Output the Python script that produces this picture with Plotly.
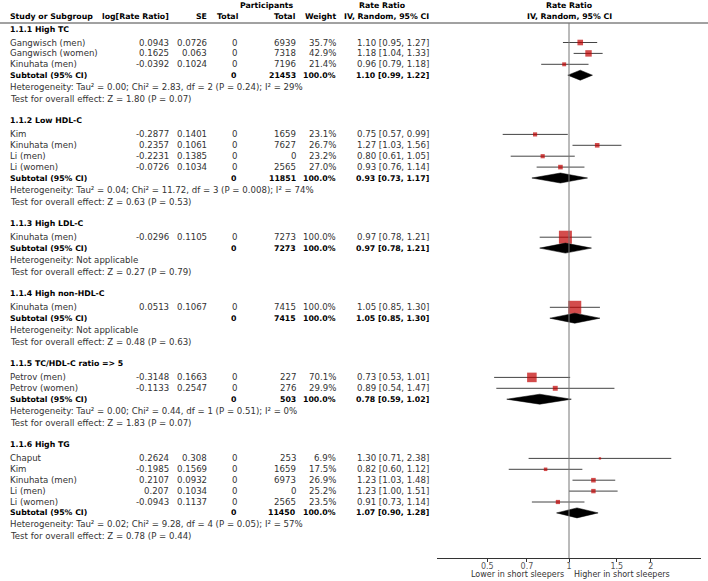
import plotly.graph_objects as go

# ---------------- data ----------------
groups = ["1.1.1 High TC", "1.1.2 Low HDL-C", "1.1.3 High LDL-C",
          "1.1.4 High non-HDL-C", "1.1.5 TC/HDL-C ratio => 5", "1.1.6 High TG"]

study = ["Gangwisch (men)", "Gangwisch (women)", "Kinuhata (men)",
         "Kim", "Kinuhata (men)", "Li (men)", "Li (women)",
         "Kinuhata (men)",
         "Kinuhata (men)",
         "Petrov (men)", "Petrov (women)",
         "Chaput", "Kim", "Kinuhata (men)", "Li (men)", "Li (women)"]
study_group = [0, 0, 0, 1, 1, 1, 1, 2, 3, 4, 4, 5, 5, 5, 5, 5]
log_rr = ["0.0943", "0.1625", "-0.0392", "-0.2877", "0.2357", "-0.2231", "-0.0726",
          "-0.0296", "0.0513", "-0.3148", "-0.1133",
          "0.2624", "-0.1985", "0.2107", "0.207", "-0.0943"]
se = ["0.0726", "0.063", "0.1024", "0.1401", "0.1061", "0.1385", "0.1034",
      "0.1105", "0.1067", "0.1663", "0.2547",
      "0.308", "0.1569", "0.0932", "0.1034", "0.1137"]
exp_total = [0] * 16
participants = [6939, 7318, 7196, 1659, 7627, 0, 2565, 7273, 7415, 227, 276,
                253, 1659, 6973, 0, 2565]
weight = [35.7, 42.9, 21.4, 23.1, 26.7, 23.2, 27.0, 100.0, 100.0, 70.1, 29.9,
          6.9, 17.5, 26.9, 25.2, 23.5]
rr = [1.10, 1.18, 0.96, 0.75, 1.27, 0.80, 0.93, 0.97, 1.05, 0.73, 0.89,
      1.30, 0.82, 1.23, 1.23, 0.91]
rr_lo = [0.95, 1.04, 0.79, 0.57, 1.03, 0.61, 0.76, 0.78, 0.85, 0.53, 0.54,
         0.71, 0.60, 1.03, 1.00, 0.73]
rr_hi = [1.27, 1.33, 1.18, 0.99, 1.56, 1.05, 1.14, 1.21, 1.30, 1.01, 1.47,
         2.38, 1.12, 1.48, 1.51, 1.14]

sub_participants = [21453, 11851, 7273, 7415, 503, 11450]
sub_rr = [1.10, 0.93, 0.97, 1.05, 0.78, 1.07]
sub_lo = [0.99, 0.73, 0.78, 0.85, 0.59, 0.90]
sub_hi = [1.22, 1.17, 1.21, 1.30, 1.02, 1.28]
heterogeneity = [
    "Heterogeneity: Tau² = 0.00; Chi² = 2.83, df = 2 (P = 0.24); I² = 29%",
    "Heterogeneity: Tau² = 0.04; Chi² = 11.72, df = 3 (P = 0.008); I² = 74%",
    "Heterogeneity: Not applicable",
    "Heterogeneity: Not applicable",
    "Heterogeneity: Tau² = 0.00; Chi² = 0.44, df = 1 (P = 0.51); I² = 0%",
    "Heterogeneity: Tau² = 0.02; Chi² = 9.28, df = 4 (P = 0.05); I² = 57%",
]
overall = [
    "Test for overall effect: Z = 1.80 (P = 0.07)",
    "Test for overall effect: Z = 0.63 (P = 0.53)",
    "Test for overall effect: Z = 0.27 (P = 0.79)",
    "Test for overall effect: Z = 0.48 (P = 0.63)",
    "Test for overall effect: Z = 1.83 (P = 0.07)",
    "Test for overall effect: Z = 0.78 (P = 0.44)",
]
tick_vals = [0.5, 0.7, 1, 1.5, 2]
tick_text = ["0.5", "0.7", "1", "1.5", "2"]
label_left = "Lower in short sleepers"
label_right = "Higher in short sleepers"

# ---------------- layout of rows (pixel rows) ----------------
W, H = 708, 581
AXIS_Y = 558
FONT = "DejaVu Sans"
FS = 8.6
FSB = 7.8
FSL = 8.0
TXT = "#333333"
RED = "#c00000"

y = 29.0
group_y, study_y, sub_y, het_y, test_y = [], [None] * len(study), [], [], []
for g in range(len(groups)):
    group_y.append(y)
    y += 13.5
    idx = [i for i, sg in enumerate(study_group) if sg == g]
    for k, i in enumerate(idx):
        study_y[i] = y
        y += 10.9
    sub_y.append(y)
    y += 11.5
    het_y.append(y)
    y += 12.0
    test_y.append(y)
    y += 22.2

ann = []

def txt(x, yy, s, anchor="left", bold=False, color=TXT):
    ann.append(dict(x=x, y=yy, xref="x", yref="y", text=(f"<b>{s}</b>" if bold else s),
                    showarrow=False, xanchor=anchor, yanchor="middle",
                    font=dict(family=FONT, size=(FSB if bold else FS),
                              color=("#000" if bold else color))))

# headers
txt(266, 5, "Participants", "center", True)
txt(382, 5, "Rate Ratio", "center", True)
txt(569, 5, "Rate Ratio", "center", True)
txt(8, 16, "Study or Subgroup", "left", True)
txt(171, 16, "log[Rate Ratio]", "right", True)
txt(209, 16, "SE", "right", True)
txt(241, 16, "Total", "right", True)
txt(298, 16, "Total", "right", True)
txt(338, 16, "Weight", "right", True)
txt(431, 16, "IV, Random, 95% CI", "right", True)
txt(569, 16, "IV, Random, 95% CI", "center", True)

for g in range(len(groups)):
    txt(8, group_y[g], groups[g], "left", True)
    txt(8, sub_y[g], "Subtotal (95% CI)", "left", True)
    txt(239, sub_y[g], "0", "right", True)
    txt(298, sub_y[g], str(sub_participants[g]), "right", True)
    txt(338, sub_y[g], "100.0%", "right", True)
    txt(431, sub_y[g], f"{sub_rr[g]:.2f} [{sub_lo[g]:.2f}, {sub_hi[g]:.2f}]", "right", True)
    txt(8, het_y[g], heterogeneity[g])
    txt(8, test_y[g], overall[g])

for i in range(len(study)):
    yy = study_y[i]
    txt(8, yy, study[i])
    txt(171, yy, log_rr[i], "right")
    txt(209, yy, se[i], "right")
    txt(239, yy, str(exp_total[i]), "right")
    txt(298, yy, str(participants[i]), "right")
    txt(338, yy, f"{weight[i]:.1f}%", "right")
    txt(431, yy, f"{rr[i]:.2f} [{rr_lo[i]:.2f}, {rr_hi[i]:.2f}]", "right")

# axis labels (below the axis -> paper y)
LBL_Y = (H - 574.5) / H
ann.append(dict(x=0, y=LBL_Y, xref="x2", yref="paper", text=label_left, showarrow=False,
                xanchor="right", yanchor="middle", xshift=-3,
                font=dict(family=FONT, size=FSL, color=TXT)))
ann.append(dict(x=0, y=LBL_Y, xref="x2", yref="paper", text=label_right, showarrow=False,
                xanchor="left", yanchor="middle", xshift=3,
                font=dict(family=FONT, size=FSL, color=TXT)))

fig = go.Figure()

# whiskers
wx, wy = [], []
for i in range(len(study)):
    wx += [rr_lo[i], rr_hi[i], None]
    wy += [study_y[i], study_y[i], None]
fig.add_trace(go.Scatter(x=wx, y=wy, xaxis="x2", yaxis="y", mode="lines",
                         line=dict(color="#444444", width=1), hoverinfo="skip",
                         showlegend=False))
# squares
fig.add_trace(go.Scatter(x=rr, y=study_y, xaxis="x2", yaxis="y", mode="markers",
                         marker=dict(symbol="square", color=RED,
                                     size=[1.5 + 0.115 * w for w in weight],
                                     line=dict(width=0)),
                         showlegend=False))
# diamonds
for g in range(len(groups)):
    yy = sub_y[g]
    fig.add_trace(go.Scatter(x=[sub_lo[g], sub_rr[g], sub_hi[g], sub_rr[g], sub_lo[g]],
                             y=[yy, yy - 5, yy, yy + 5, yy], xaxis="x2", yaxis="y",
                             mode="lines", fill="toself", fillcolor="#000000",
                             line=dict(color="#000000", width=0.5), showlegend=False))

shapes = [
    dict(type="line", xref="paper", yref="y", x0=0, x1=1, y0=23, y1=23,
         line=dict(color="#444444", width=1)),
    dict(type="line", xref="x2", yref="y", x0=1, x1=1, y0=23, y1=AXIS_Y,
         line=dict(color="#777777", width=1)),
]

fig.update_layout(
    width=W, height=H, margin=dict(l=0, r=0, t=0, b=0),
    paper_bgcolor="white", plot_bgcolor="white",
    showlegend=False, annotations=ann, shapes=shapes,
    xaxis=dict(range=[0, W], domain=[0, 1], visible=False, fixedrange=True),
    xaxis2=dict(type="log", range=[-0.486, 0.486], domain=[437 / W, 701 / W],
                anchor="y", showline=True, linecolor="#333333", linewidth=1,
                showgrid=False, zeroline=False, tickvals=tick_vals, ticktext=tick_text,
                ticks="outside", ticklen=3, tickcolor="#333333",
                tickfont=dict(family=FONT, size=FSL, color="#555555"),
                ticklabelstandoff=-3),
    yaxis=dict(range=[AXIS_Y, 0], domain=[(H - AXIS_Y) / H, 1], visible=False,
               fixedrange=True),
)

fig.write_html("out.html", config={"displayModeBar": False},
               post_script="document.body.style.margin='0';document.body.style.overflow='hidden';")
